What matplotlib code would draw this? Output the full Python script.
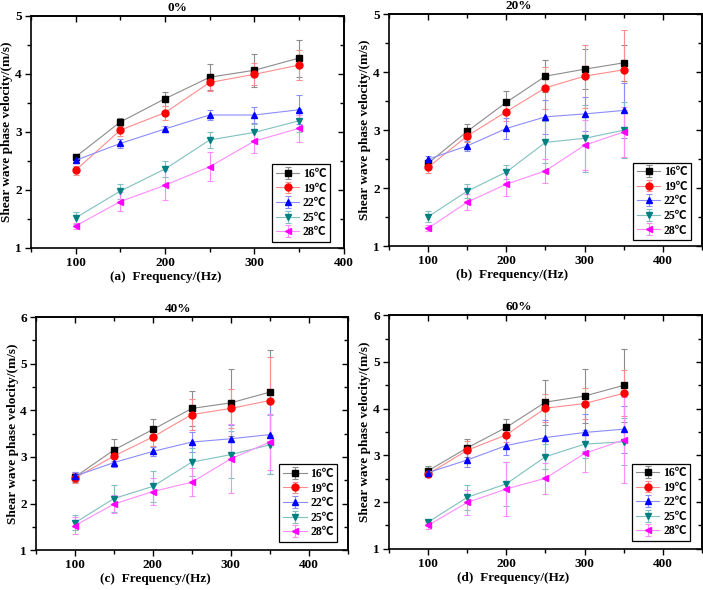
import matplotlib
matplotlib.use("Agg")
import matplotlib.pyplot as plt
from matplotlib.ticker import MultipleLocator

plt.rcParams["font.family"] = ["Liberation Serif", "Noto Sans CJK SC"]
plt.rcParams["font.weight"] = "bold"
plt.rcParams["font.size"] = 9.5

FREQ = [100, 150, 200, 250, 300, 350]
TEMPS = ["16℃", "19℃", "22℃", "25℃", "28℃"]

# velocities (m/s) per temperature, one list per saturation level
VEL_0 = [[2.57, 3.17, 3.57, 3.94, 4.06, 4.27],
         [2.34, 3.03, 3.33, 3.85, 3.99, 4.15],
         [2.51, 2.80, 3.05, 3.29, 3.29, 3.38],
         [1.52, 1.98, 2.36, 2.86, 2.99, 3.19],
         [1.38, 1.80, 2.08, 2.40, 2.84, 3.06]]
ERR_0 = [[0.05, 0.07, 0.12, 0.22, 0.28, 0.32],
         [0.08, 0.11, 0.12, 0.14, 0.19, 0.26],
         [0.05, 0.07, 0.05, 0.09, 0.14, 0.25],
         [0.10, 0.13, 0.13, 0.13, 0.14, 0.20],
         [0.05, 0.16, 0.26, 0.25, 0.21, 0.23]]

VEL_20 = [[2.43, 2.98, 3.48, 3.93, 4.05, 4.16],
          [2.36, 2.90, 3.32, 3.73, 3.93, 4.04],
          [2.50, 2.73, 3.03, 3.23, 3.28, 3.34],
          [1.51, 1.95, 2.28, 2.79, 2.86, 3.00],
          [1.31, 1.76, 2.07, 2.30, 2.74, 2.97]]
ERR_20 = [[0.05, 0.13, 0.20, 0.27, 0.34, 0.31],
          [0.10, 0.10, 0.16, 0.36, 0.54, 0.69],
          [0.06, 0.09, 0.18, 0.29, 0.30, 0.47],
          [0.09, 0.12, 0.12, 0.36, 0.58, 0.48],
          [0.05, 0.14, 0.20, 0.21, 0.43, 0.43]]

VEL_40 = [[2.57, 3.15, 3.59, 4.04, 4.16, 4.39],
          [2.55, 3.02, 3.43, 3.91, 4.04, 4.21],
          [2.59, 2.88, 3.12, 3.32, 3.39, 3.48],
          [1.59, 2.11, 2.37, 2.89, 3.05, 3.26],
          [1.53, 1.99, 2.26, 2.46, 2.96, 3.32]]
ERR_40 = [[0.11, 0.24, 0.23, 0.37, 0.72, 0.91],
          [0.10, 0.20, 0.20, 0.33, 0.41, 0.93],
          [0.08, 0.10, 0.10, 0.22, 0.30, 0.85],
          [0.16, 0.28, 0.34, 0.30, 0.50, 0.63],
          [0.19, 0.19, 0.28, 0.30, 0.74, 0.60]]

VEL_60 = [[2.67, 3.16, 3.60, 4.14, 4.27, 4.50],
          [2.60, 3.11, 3.44, 4.01, 4.11, 4.33],
          [2.63, 2.90, 3.21, 3.38, 3.49, 3.56],
          [1.57, 2.10, 2.39, 2.97, 3.24, 3.29],
          [1.50, 1.99, 2.28, 2.51, 3.04, 3.33]]
ERR_60 = [[0.11, 0.20, 0.17, 0.48, 0.57, 0.78],
          [0.06, 0.20, 0.15, 0.30, 0.33, 0.49],
          [0.06, 0.14, 0.21, 0.38, 0.40, 0.50],
          [0.05, 0.27, 0.47, 0.27, 0.30, 0.50],
          [0.07, 0.27, 0.58, 0.33, 0.40, 0.93]]

MARKERS = ["s", "o", "^", "v", "<"]
COLORS = ["#000000", "#ff0000", "#0000ff", "#008080", "#ff00ff"]
LIGHT = ["#8c8c8c", "#ff8c8c", "#8c8cff", "#80c0c0", "#ff8cff"]

# (title, sub-label, data, errors, axes rect, xmax, ymax, title x, xlabel x, legend anchor)
PANELS = [
    ("0%", "(a)", VEL_0, ERR_0, [0.0441, 0.5797, 0.4448, 0.3937], 400, 5, 0.467, 0.432, (0.956, 0.026)),
    ("20%", "(b)", VEL_20, ERR_20, [0.5533, 0.5825, 0.4452, 0.3937], 450, 5, 0.415, 0.393, (0.965, 0.027)),
    ("40%", "(c)", VEL_40, ERR_40, [0.0512, 0.0673, 0.4434, 0.3954], 450, 6, 0.456, 0.382, (0.966, 0.036)),
    ("60%", "(d)", VEL_60, ERR_60, [0.5533, 0.0700, 0.4452, 0.3956], 450, 6, 0.415, 0.396, (0.962, 0.033)),
]

fig = plt.figure(figsize=(7.03, 5.90), dpi=100)

for title, tag, vel, err, rect, xmax, ymax, tx, lx, anchor in PANELS:
    ax = fig.add_axes(rect)
    for i, temp in enumerate(TEMPS):
        ax.errorbar(FREQ, vel[i], yerr=err[i], color=LIGHT[i], ecolor=LIGHT[i],
                    linewidth=0.8, elinewidth=0.8, capsize=2.5, capthick=0.8,
                    marker=MARKERS[i], markersize=5, markerfacecolor=COLORS[i],
                    markeredgecolor=COLORS[i], label=temp)

    ax.set_xlim(50, xmax)
    ax.set_ylim(1, ymax)
    ax.xaxis.set_minor_locator(MultipleLocator(50))
    ax.yaxis.set_major_locator(MultipleLocator(1))
    ax.yaxis.set_minor_locator(MultipleLocator(0.5))
    ax.set_xticks([100, 200, 300, 400])
    ax.tick_params(which="both", direction="out", top=False, right=False, width=1.0)
    ax.tick_params(which="major", length=4, labelsize=9.5, pad=2.5)
    ax.tick_params(which="minor", length=3)
    for lbl in ax.get_xticklabels() + ax.get_yticklabels():
        lbl.set_fontweight("bold")

    # mirrored inward ticks on top and right, Origin style
    sec_x = ax.secondary_xaxis("top")
    sec_x.xaxis.set_major_locator(MultipleLocator(100))
    sec_x.xaxis.set_minor_locator(MultipleLocator(50))
    sec_x.tick_params(which="both", direction="in", labeltop=False, width=1.0)
    sec_x.tick_params(which="major", length=4)
    sec_x.tick_params(which="minor", length=3)
    sec_y = ax.secondary_yaxis("right")
    sec_y.yaxis.set_major_locator(MultipleLocator(1))
    sec_y.yaxis.set_minor_locator(MultipleLocator(0.5))
    sec_y.tick_params(which="both", direction="in", labelright=False, width=1.0)
    sec_y.tick_params(which="major", length=4)
    sec_y.tick_params(which="minor", length=3)
    for side in ax.spines.values():
        side.set_linewidth(1.2)
    sec_x.spines["top"].set_linewidth(1.2)
    sec_y.spines["right"].set_linewidth(1.2)

    ax.set_ylabel("Shear wave phase velocity/(m/s)", fontsize=9.5, fontweight="bold")
    ax.yaxis.set_label_coords(-0.056, 0.5)
    ax.text(lx, -0.125, f"{tag}  Frequency/(Hz)", transform=ax.transAxes,
            ha="center", va="center", fontsize=9.5, fontweight="bold")
    ax.text(tx, 1.035, title, transform=ax.transAxes, ha="center", va="center",
            fontsize=9.5, fontweight="bold")

    leg = ax.legend(loc="lower right", bbox_to_anchor=anchor, borderaxespad=0,
                    fancybox=False, framealpha=1, edgecolor="black",
                    handlelength=2.0, labelspacing=0.22, borderpad=0.3,
                    handletextpad=0.3, prop={"weight": "bold", "size": 8.5})
    leg.get_frame().set_linewidth(0.9)

fig.savefig("out.png", dpi=100)
